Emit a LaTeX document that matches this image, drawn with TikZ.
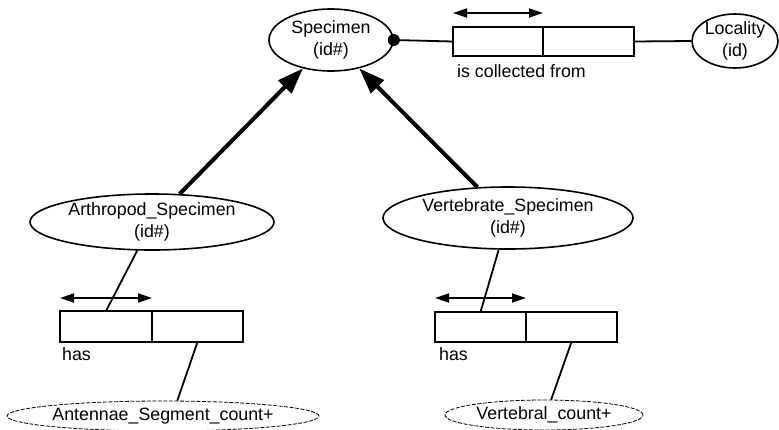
\documentclass[tikz,border=0pt]{standalone}
\usepackage{fontspec}
\setmainfont{Liberation Sans}
\usetikzlibrary{arrows.meta,shapes.geometric}
\begin{document}
\begin{tikzpicture}[x=1pt,y=-1pt,
  every node/.style={font=\fontsize{17.8}{22}\selectfont},
  ent/.style={ellipse,draw,line width=1.6pt,inner sep=0pt},
  attr/.style={ellipse,draw,line width=0.8pt,dash pattern=on 4pt off 1.5pt,inner sep=0pt},
  cell/.style={rectangle,draw,line width=1.8pt,inner sep=0pt,outer sep=0pt,anchor=north west},
  rel/.style={line width=1.8pt},
  card/.style={line width=1.8pt,{Triangle[length=14pt,width=9pt]}-{Triangle[length=14pt,width=9pt]}},
  isa/.style={line width=4pt,-{Triangle[length=26pt,width=18pt]}},
  txt/.style={inner sep=0pt,anchor=west}
]
\useasboundingbox (0,0) rectangle (779,429);
\clip (0,0) rectangle (779,429);
\fill[white] (0,0) rectangle (779,429);

% entities
\node[ent,minimum width=124pt,minimum height=62pt,label={[align=center]center:Specimen\\(id\#)}] (spec) at (331,40) {};
\node[ent,minimum width=86pt,minimum height=54pt,label={[align=center]center:Locality\\(id)}] (loc) at (735,41) {};
\node[ent,minimum width=244pt,minimum height=56pt,label={[align=center]center:Arthropod\_Specimen\\(id\#)}] (arth) at (152,222) {};
\node[ent,minimum width=250pt,minimum height=62pt,label={[align=center]center:Vertebrate\_Specimen\\(id\#)}] (vert) at (508,218) {};
\node[attr,minimum width=312pt,minimum height=30pt,label={center:Antennae\_Segment\_count+}] (ant) at (163,416) {};
\node[attr,minimum width=198pt,minimum height=30pt,label={center:Vertebral\_count+}] (vtb) at (544,415) {};

% relationship boxes
\node[cell,minimum width=90pt,minimum height=29pt] (t1) at (453,27) {};
\node[cell,minimum width=91pt,minimum height=29pt] (t2) at (t1.north east) {};
\node[cell,minimum width=92pt,minimum height=31pt] (a1) at (60,311) {};
\node[cell,minimum width=91pt,minimum height=31pt] (a2) at (a1.north east) {};
\node[cell,minimum width=91pt,minimum height=30pt] (b1) at (435,312) {};
\node[cell,minimum width=91pt,minimum height=30pt] (b2) at (b1.north east) {};

% labels
\node[txt] (l1) at (457,71.5) {is collected from};
\node[txt] (l2) at (62,354) {has};
\node[txt] (l3) at (439,354) {has};

% connectors
\draw[rel] (spec.east) -- (t1.west);
\fill (spec.east) circle[radius=6pt];
\draw[rel] (t2.east) -- (loc.west);
\draw[card] ([yshift=14pt]t1.north west) -- ([yshift=14pt]t1.north east);

\draw[isa] (arth) -- (spec);
\draw[isa] (vert) -- (spec);

\draw[rel] (arth) -- (a1.north);
\draw[rel] (a2.south) -- (ant.47);
\draw[card] ([yshift=13pt]a1.north west) -- ([yshift=13pt]a1.north east);

\draw[rel] (vert) -- (b1.north);
\draw[rel] (b2.south) -- (vtb.65);
\draw[card] ([yshift=14pt]b1.north west) -- ([yshift=14pt]b1.north east);
\end{tikzpicture}
\end{document}
